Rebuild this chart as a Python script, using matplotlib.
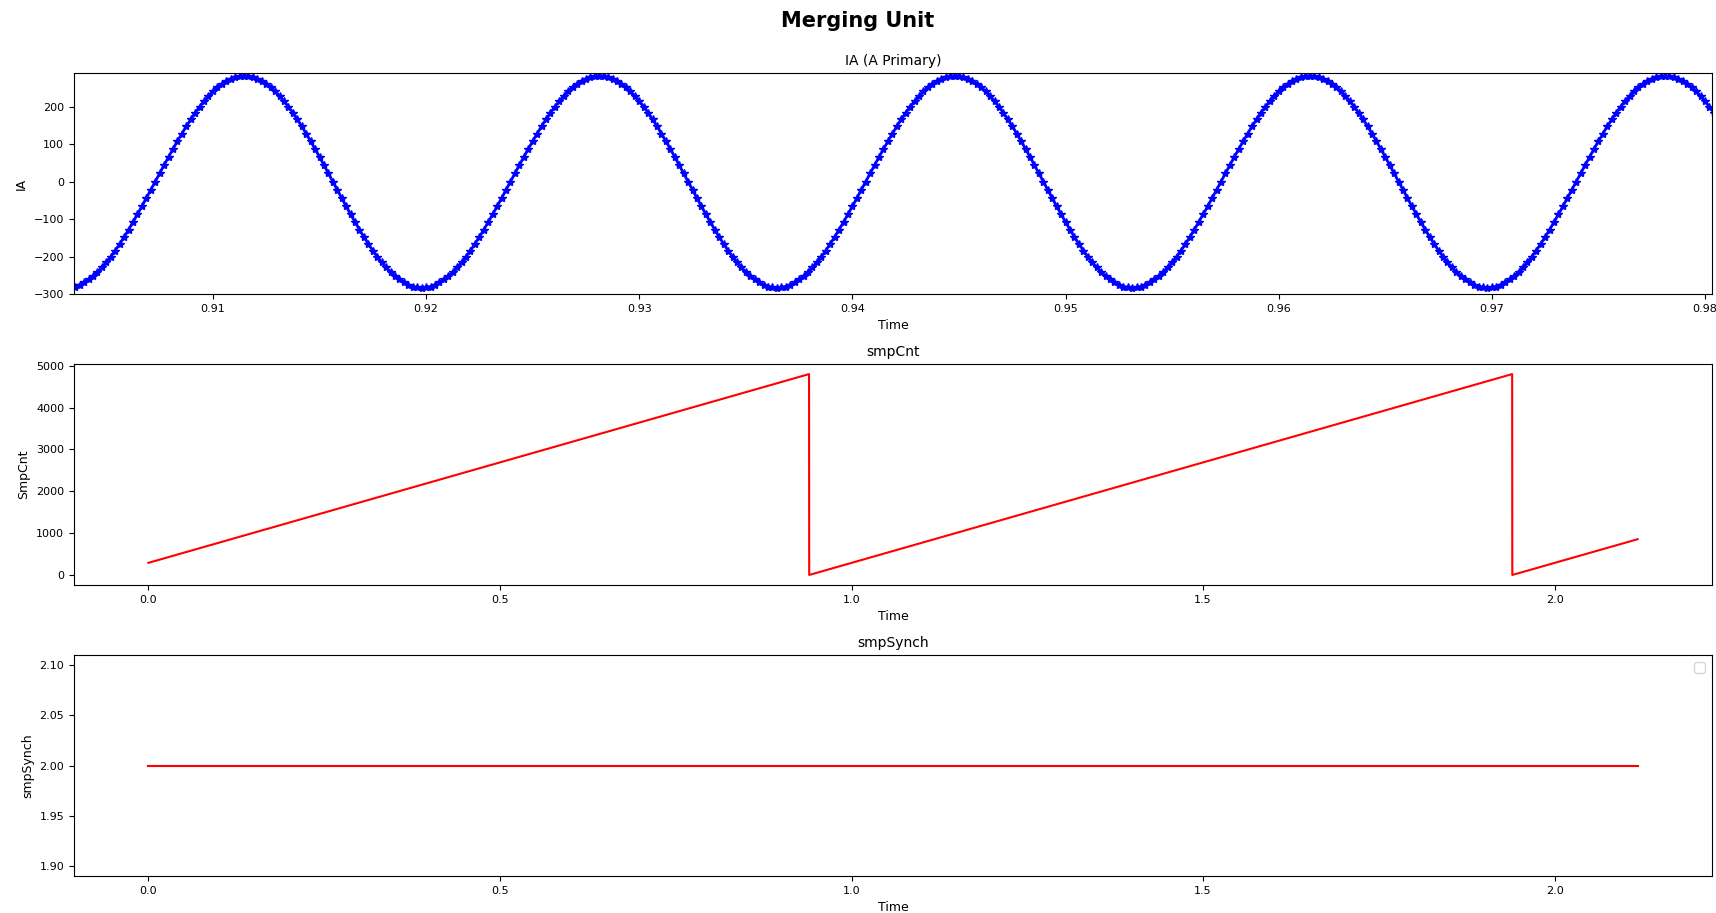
import numpy as np
import matplotlib
matplotlib.use("Agg")
import matplotlib.pyplot as plt
from matplotlib.ticker import MultipleLocator

# IA samples (A primary), 4800 samples/s, first sample index 4334
fs = 4800
ia_first_sample = 4334
ia = [
    -282,
    -283, -282, -280, -275, -269, -261, -252, -241, -229, -215, -200, -184, -166, -148, -128, -108, -87, -66, -44, -22,
    0, 22, 44, 66, 87, 108, 128, 148, 166, 184, 200, 215, 229, 241, 252, 261, 269, 275, 280, 282,
    283, 282, 280, 275, 269, 261, 252, 241, 229, 215, 200, 184, 166, 148, 128, 108, 87, 66, 44, 22,
    0, -22, -44, -66, -87, -108, -128, -148, -166, -184, -200, -215, -229, -241, -252, -261, -269, -275, -280, -282,
    -283, -282, -280, -275, -269, -261, -252, -241, -229, -215, -200, -184, -166, -148, -128, -108, -87, -66, -44, -22,
    0, 22, 44, 66, 87, 108, 128, 148, 166, 184, 200, 215, 229, 241, 252, 261, 269, 275, 280, 282,
    283, 282, 280, 275, 269, 261, 252, 241, 229, 215, 200, 184, 166, 148, 128, 108, 87, 66, 44, 22,
    0, -22, -44, -66, -87, -108, -128, -148, -166, -184, -200, -215, -229, -241, -252, -261, -269, -275, -280, -282,
    -283, -282, -280, -275, -269, -261, -252, -241, -229, -215, -200, -184, -166, -148, -128, -108, -87, -66, -44, -22,
    0, 22, 44, 66, 87, 108, 128, 148, 166, 184, 200, 215, 229, 241, 252, 261, 269, 275, 280, 282,
    283, 282, 280, 275, 269, 261, 252, 241, 229, 215, 200, 184, 166, 148, 128, 108, 87, 66, 44, 22,
    0, -22, -44, -66, -87, -108, -128, -148, -166, -184, -200, -215, -229, -241, -252, -261, -269, -275, -280, -282,
    -283, -282, -280, -275, -269, -261, -252, -241, -229, -215, -200, -184, -166, -148, -128, -108, -87, -66, -44, -22,
    0, 22, 44, 66, 87, 108, 128, 148, 166, 184, 200, 215, 229, 241, 252, 261, 269, 275, 280, 282,
    283, 282, 280, 275, 269, 261, 252, 241, 229, 215, 200, 184, 166, 148, 128, 108, 87, 66, 44, 22,
    0, -22, -44, -66, -87, -108, -128, -148, -166, -184, -200, -215, -229, -241, -252, -261, -269, -275, -280, -282,
    -283, -282, -280, -275, -269, -261, -252, -241, -229, -215, -200, -184, -166, -148, -128, -108, -87, -66, -44, -22,
    0, 22, 44, 66, 87, 108, 128, 148, 166, 184, 200, 215, 229, 241, 252, 261, 269, 275, 280, 282,
    283, 282, 280, 275, 269, 261, 252, 241, 229, 215, 200, 184, 166,
]
t_ia = (ia_first_sample + np.arange(len(ia))) / fs

# smpCnt ramps (turning points of the counter)
t_cnt = [0.0, 0.9396, 0.9398, 1.9396, 1.9398, 2.118]
smp_cnt = [290, 4799, 0, 4799, 0, 854]

# smpSynch stays constant
t_synch = [0.0, 2.118]
smp_synch = [2, 2]

fig, (ax1, ax2, ax3) = plt.subplots(3, 1, figsize=(17.16, 9.13), dpi=100)
fig.subplots_adjust(left=0.0431, right=0.9977, top=0.920, bottom=0.0405, hspace=0.317)
fig.suptitle('Merging Unit', fontsize=15, fontweight='bold', y=0.988)

ax1.plot(t_ia, ia, color='blue', marker='*', markersize=6, linewidth=2)
ax1.set_xlim(0.90348, 0.98033)
ax1.set_ylim(-300, 290)
ax1.set_title('IA (A Primary)', fontsize=10)
ax1.set_xlabel('Time', fontsize=9)
ax1.set_ylabel('IA', fontsize=9)

ax2.plot(t_cnt, smp_cnt, color='red', linewidth=1.5)
ax2.set_title('smpCnt', fontsize=10)
ax2.set_xlabel('Time', fontsize=9)
ax2.set_ylabel('SmpCnt', fontsize=9)

ax3.plot(t_synch, smp_synch, color='red', linewidth=1.5)
ax3.yaxis.set_major_locator(MultipleLocator(0.05))
ax3.set_title('smpSynch', fontsize=10)
ax3.set_xlabel('Time', fontsize=9)
ax3.set_ylabel('smpSynch', fontsize=9)
ax3.legend(loc='upper right')

for ax in (ax1, ax2, ax3):
    ax.tick_params(axis='both', which='major', labelsize=8)

fig.savefig('out.png', dpi=100)
